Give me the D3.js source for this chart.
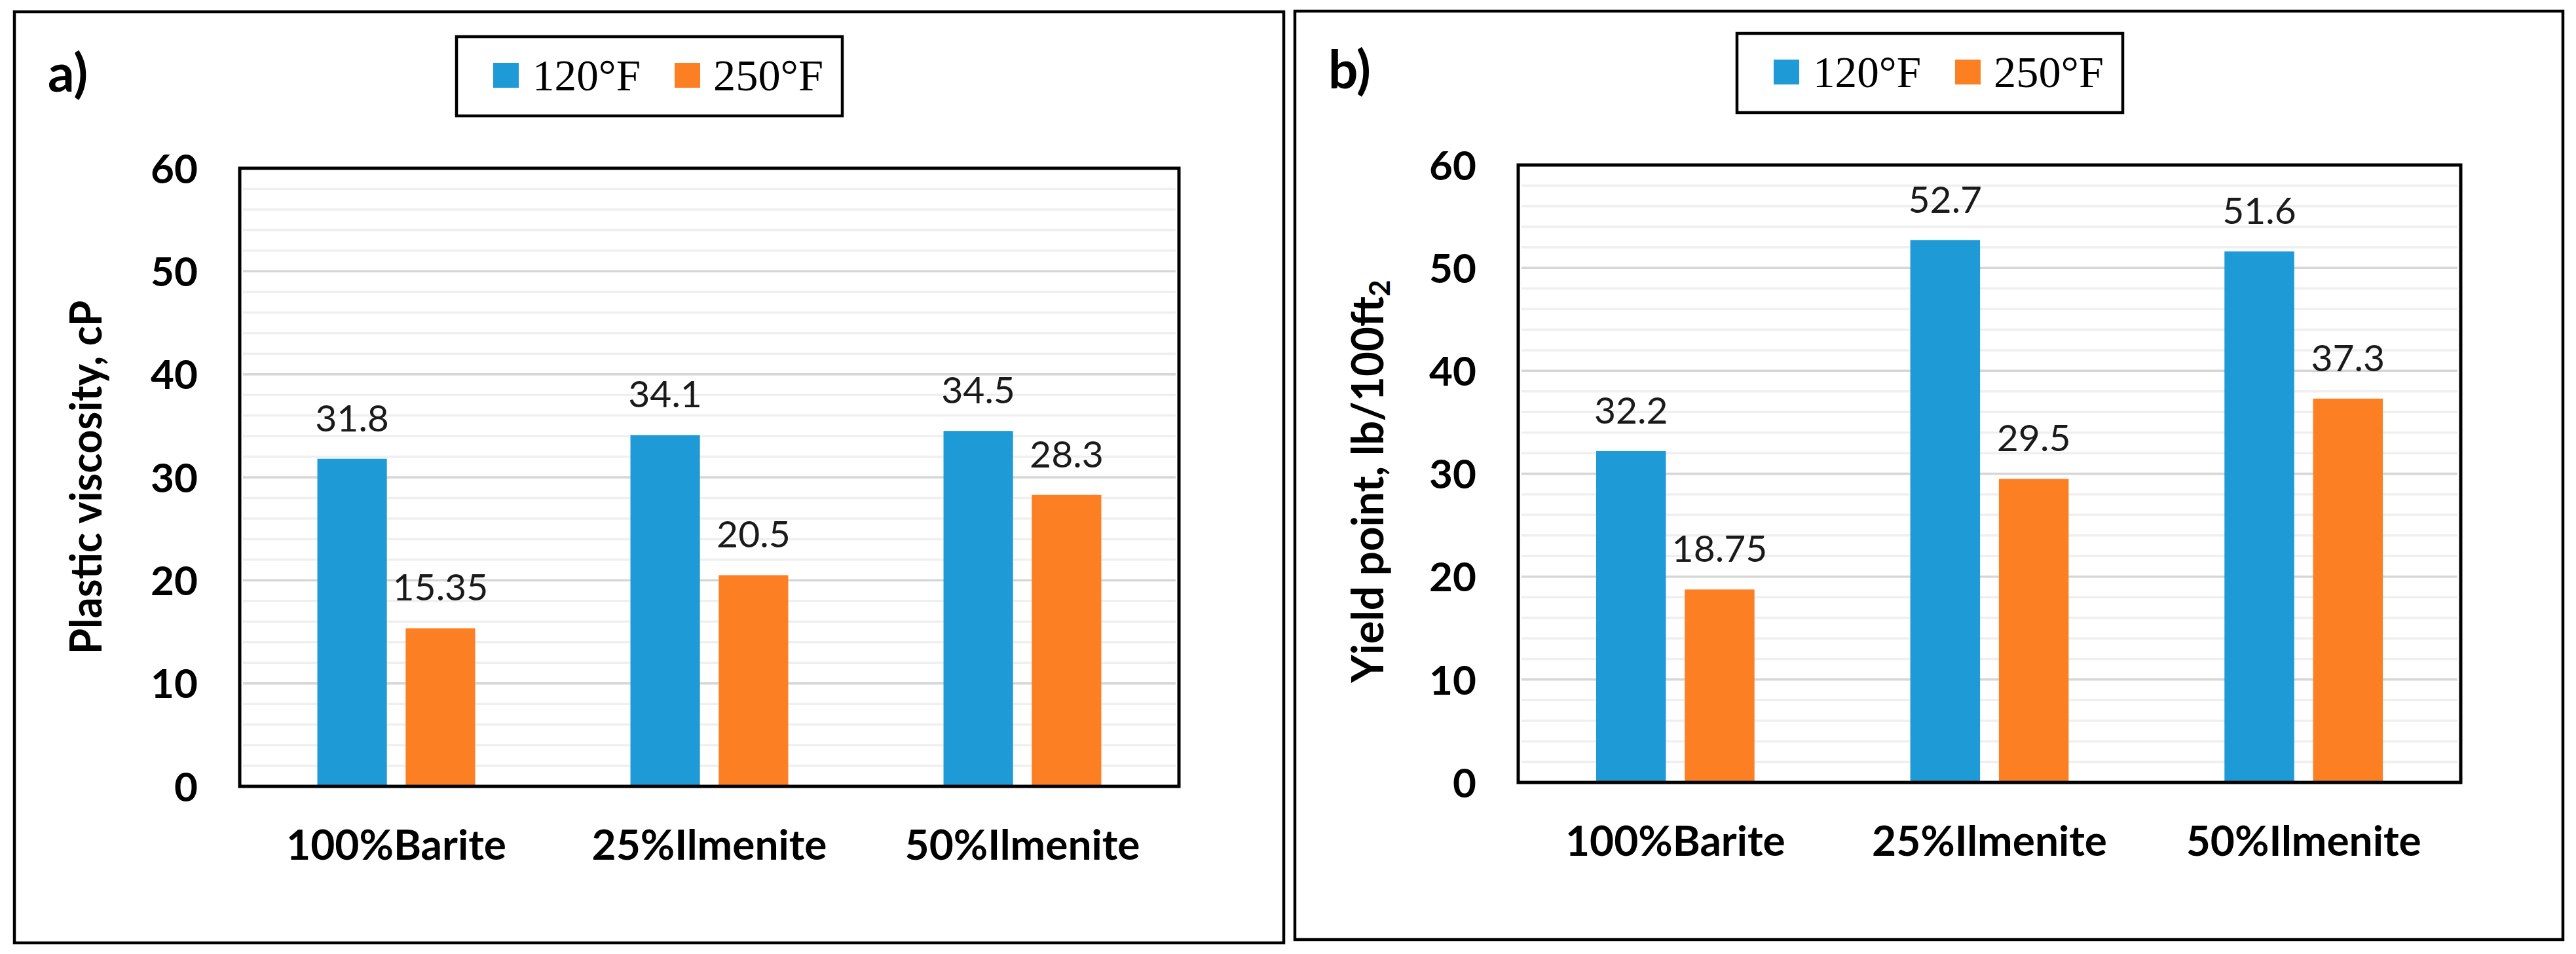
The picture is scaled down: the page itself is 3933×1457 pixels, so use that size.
<!DOCTYPE html>
<html>
<head>
<meta charset="utf-8">
<script src="https://cdn.jsdelivr.net/npm/d3@7/dist/d3.min.js"></script>
<style>
  html, body { margin: 0; padding: 0; background: #ffffff; }
  svg { display: block; }
</style>
</head>
<body>
<svg id="chart" width="3933" height="1457"></svg>
<script>
// ---------------- data ----------------
const categories = ["100%Barite", "25%Ilmenite", "50%Ilmenite"];
const seriesNames = ["120°F", "250°F"];
const plasticViscosity120 = [31.8, 34.1, 34.5];
const plasticViscosity250 = [15.35, 20.5, 28.3];
const yieldPoint120 = [32.2, 52.7, 51.6];
const yieldPoint250 = [18.75, 29.5, 37.3];
const yTickValues = [0, 10, 20, 30, 40, 50, 60];
const panelLabels = ["a)", "b)"];
const yTitles = ["Plastic viscosity, cP", "Yield point, lb/100ft"];
const yTitleSub = ["", "2"];

// ---------------- style ----------------
const colors = { "120°F": "#1e9ad6", "250°F": "#fd7f24" };
const sans = "Lato, 'Open Sans', sans-serif";
const serif = "'Liberation Serif', 'DejaVu Serif', serif";

const svg = d3.select("#chart");
svg.append("rect").attr("width", 3933).attr("height", 1457).attr("fill", "#fff");

const panels = [
  { ox: 0, oy: 0, border: { x: 22, y: 18, w: 1938, h: 1422 },
    plot: { l: 366, t: 257, r: 1800, b: 1201 },
    v120: plasticViscosity120, v250: plasticViscosity250,
    titleX: 155, titleY: 729, titleLen: 540 },
  { ox: 1955, oy: -5, border: { x: 22, y: 22, w: 1936, h: 1418 },
    plot: { l: 363, t: 257, r: 1802, b: 1200 },
    v120: yieldPoint120, v250: yieldPoint250,
    titleX: 157, titleY: 740, titleLen: 615 }
];

panels.forEach((p, i) => {
  const g = svg.append("g").attr("transform", `translate(${p.ox},${p.oy})`);

  // panel frame
  g.append("rect")
    .attr("x", p.border.x).attr("y", p.border.y)
    .attr("width", p.border.w).attr("height", p.border.h)
    .attr("fill", "none").attr("stroke", "#000").attr("stroke-width", 4.5);

  // panel label
  g.append("text")
    .attr("x", 73).attr("y", 140)
    .attr("font-family", sans).attr("font-weight", 700)
    .attr("font-size", 80).attr("fill", "#000")
    .text(panelLabels[i]);

  // legend
  const lg = g.append("g");
  lg.append("rect").attr("x", 697).attr("y", 56).attr("width", 589).attr("height", 121)
    .attr("fill", "#fff").attr("stroke", "#000").attr("stroke-width", 4.5);
  const legendItems = [
    { name: seriesNames[0], sx: 753, tx: 813, tw: 165 },
    { name: seriesNames[1], sx: 1030, tx: 1089, tw: 168 }
  ];
  legendItems.forEach(it => {
    lg.append("rect").attr("x", it.sx).attr("y", 96).attr("width", 39).attr("height", 38)
      .attr("fill", colors[it.name]);
    lg.append("text").attr("x", it.tx).attr("y", 138)
      .attr("font-family", serif).attr("font-size", 68).attr("fill", "#000")
      .attr("textLength", it.tw).attr("lengthAdjust", "spacingAndGlyphs")
      .text(it.name);
  });

  // scales
  const x0 = d3.scaleBand().domain(categories).range([p.plot.l, p.plot.r]).padding(0);
  const bw = x0.bandwidth();
  const x1 = d3.scaleBand().domain(seriesNames)
    .range([bw * 0.248, bw * 0.752]).paddingInner(0.2128).paddingOuter(0);
  const y = d3.scaleLinear().domain([0, 60]).range([p.plot.b, p.plot.t]);

  // gridlines
  const minor = d3.range(2, 60, 2).filter(v => v % 10 !== 0);
  g.append("g").selectAll("line").data(minor).join("line")
    .attr("x1", p.plot.l + 5).attr("x2", p.plot.r - 5)
    .attr("y1", d => y(d)).attr("y2", d => y(d))
    .attr("stroke", "#efefef").attr("stroke-width", 3.5);
  g.append("g").selectAll("line").data(yTickValues.filter(v => v > 0 && v < 60)).join("line")
    .attr("x1", p.plot.l + 5).attr("x2", p.plot.r - 5)
    .attr("y1", d => y(d)).attr("y2", d => y(d))
    .attr("stroke", "#d6d6d6").attr("stroke-width", 3.5);

  // bars
  const rows = categories.map((c, k) => ({ cat: c, vals: [
    { s: seriesNames[0], v: p.v120[k] }, { s: seriesNames[1], v: p.v250[k] } ] }));
  const grp = g.append("g").selectAll("g").data(rows).join("g")
    .attr("transform", d => `translate(${x0(d.cat)},0)`);
  grp.selectAll("rect").data(d => d.vals).join("rect")
    .attr("x", d => x1(d.s)).attr("width", x1.bandwidth())
    .attr("y", d => y(d.v)).attr("height", d => y(0) - y(d.v))
    .attr("fill", d => colors[d.s]);
  grp.selectAll("text").data(d => d.vals).join("text")
    .attr("x", d => x1(d.s) + x1.bandwidth() / 2)
    .attr("y", d => y(d.v) - 42)
    .attr("text-anchor", "middle")
    .attr("font-family", sans).attr("font-size", 57).attr("fill", "#1a1a1a")
    .text(d => String(d.v));

  // plot frame
  g.append("rect")
    .attr("x", p.plot.l).attr("y", p.plot.t)
    .attr("width", p.plot.r - p.plot.l).attr("height", p.plot.b - p.plot.t)
    .attr("fill", "none").attr("stroke", "#000").attr("stroke-width", 5);

  // y axis (labels only)
  const yAxis = d3.axisLeft(y).tickValues(yTickValues).tickSize(0).tickPadding(64)
    .tickFormat(d3.format("d"));
  const ya = g.append("g").attr("transform", `translate(${p.plot.l},0)`).call(yAxis);
  ya.select(".domain").remove();
  ya.selectAll("text")
    .attr("font-family", sans).attr("font-weight", 700).attr("font-size", 62)
    .attr("fill", "#000").attr("dy", "0.36em");

  // x axis (labels only)
  const xAxis = d3.axisBottom(x0).tickSize(0).tickPadding(0);
  const xa = g.append("g").attr("transform", `translate(0,${p.plot.b})`).call(xAxis);
  xa.select(".domain").remove();
  xa.selectAll("text")
    .attr("font-family", sans).attr("font-weight", 700).attr("font-size", 64)
    .attr("fill", "#000").attr("y", 112).attr("dy", 0);

  // y title
  const t = g.append("text")
    .attr("transform", `translate(${p.titleX},${p.titleY}) rotate(-90)`)
    .attr("text-anchor", "middle")
    .attr("font-family", sans).attr("font-weight", 700).attr("font-size", 66)
    .attr("fill", "#000")
    .attr("textLength", p.titleLen).attr("lengthAdjust", "spacingAndGlyphs");
  t.append("tspan").text(yTitles[i]);
  if (yTitleSub[i]) {
    t.append("tspan").attr("font-size", 44).attr("dy", 10).text(yTitleSub[i]);
  }
});
</script>
</body>
</html>
